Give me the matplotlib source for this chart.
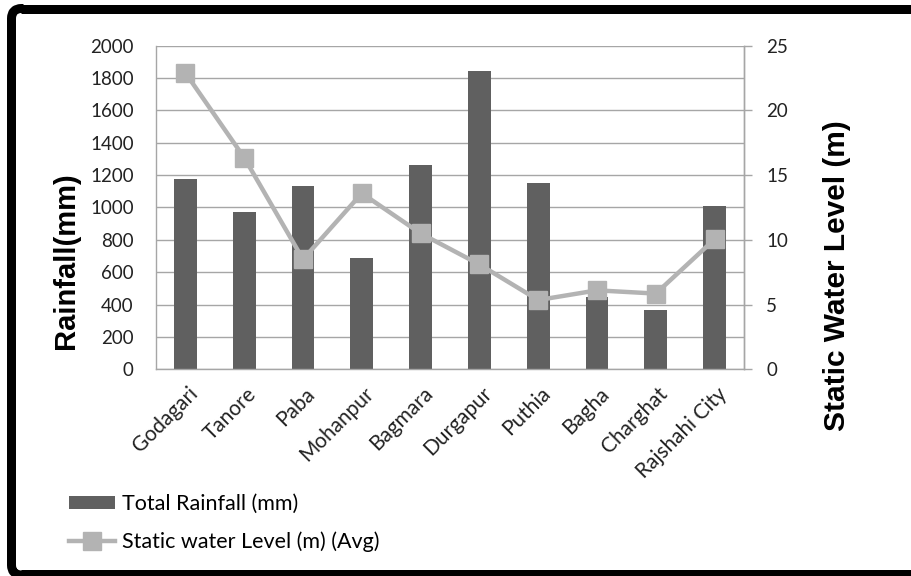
import matplotlib
matplotlib.use("Agg")
import matplotlib.pyplot as plt
import matplotlib.transforms as mtransforms
from matplotlib.patches import Patch, PathPatch
from matplotlib.path import Path
from matplotlib.lines import Line2D

# Rainfall and groundwater data per upazila
stations = ["Godagari", "Tanore", "Paba", "Mohanpur", "Bagmara",
            "Durgapur", "Puthia", "Bagha", "Charghat", "Rajshahi City"]
rainfall_mm = [1175, 975, 1130, 685, 1265, 1845, 1150, 445, 365, 1010]
water_level_m = [22.9, 16.35, 8.5, 13.6, 10.5, 8.1, 5.35, 6.1, 5.85, 10.05]
rain_ticks = [0, 200, 400, 600, 800, 1000, 1200, 1400, 1600, 1800, 2000]
level_ticks = [0, 5, 10, 15, 20, 25]

BAR_COLOR = "#606060"
LINE_COLOR = "#b3b3b3"
GRID_COLOR = "#a6a6a6"
TEXT_COLOR = "#222222"
TEXT_FONT = ["Lato", "DejaVu Sans"]
LABEL_FONT = ["Liberation Sans", "DejaVu Sans"]

fig = plt.figure(figsize=(9.12, 5.76), dpi=100)
W, H = 912, 576
AX_L, AX_R, AX_T, AX_B = 156, 744, 45.7, 369.3

ax = fig.add_axes([AX_L / W, 1 - AX_B / H, (AX_R - AX_L) / W, (AX_B - AX_T) / H])
x = list(range(len(stations)))

ax.bar(x, rainfall_mm, width=0.39, color=BAR_COLOR, zorder=2)
ax.set_xlim(-0.5, len(stations) - 0.5)
ax.set_ylim(0, 2000)
ax.set_yticks(rain_ticks)
ax.grid(axis="y", color=GRID_COLOR, linewidth=1.0, zorder=0)
ax.set_axisbelow(True)
ax.spines["top"].set_visible(False)
for side in ["left", "bottom", "right"]:
    ax.spines[side].set_color(GRID_COLOR)
    ax.spines[side].set_linewidth(1.0)
ax.tick_params(axis="y", length=0, pad=16, labelsize=13.5, labelcolor=TEXT_COLOR)
ax.tick_params(axis="x", length=0, pad=6)
ax.set_xticks(x)
ax.set_xticklabels(stations, rotation=45, ha="right", va="center",
                   rotation_mode="anchor", fontsize=15, color=TEXT_COLOR,
                   family=TEXT_FONT)
shift = mtransforms.ScaledTranslation(9 / 100, -13 / 100, fig.dpi_scale_trans)
for lbl in ax.get_xticklabels():
    lbl.set_transform(lbl.get_transform() + shift)
for lbl in ax.get_yticklabels():
    lbl.set_family(TEXT_FONT)
ax.set_ylabel("Rainfall(mm)", fontsize=21, fontweight="bold", family=LABEL_FONT)
ax.yaxis.set_label_coords((80 - AX_L) / (AX_R - AX_L), (AX_B - 261) / (AX_B - AX_T))

ax2 = ax.twinx()
ax2.plot(x, water_level_m, color=LINE_COLOR, linewidth=3.2, marker="s",
         markersize=13, markerfacecolor=LINE_COLOR, markeredgecolor=LINE_COLOR,
         zorder=3)
ax2.set_ylim(0, 25)
ax2.set_yticks(level_ticks)
for side in ["top", "left", "bottom"]:
    ax2.spines[side].set_visible(False)
ax2.spines["right"].set_color(GRID_COLOR)
ax2.spines["right"].set_linewidth(1.0)
ax2.tick_params(axis="y", length=6, width=1.0, color=GRID_COLOR, pad=10,
                labelsize=13.5, labelcolor=TEXT_COLOR)
for lbl in ax2.get_yticklabels():
    lbl.set_family(TEXT_FONT)
ax2.set_ylabel("Static Water Level (m)", fontsize=21.5, fontweight="bold",
               family=LABEL_FONT, rotation=90)
ax2.yaxis.set_label_coords((823 - AX_L) / (AX_R - AX_L), (AX_B - 276) / (AX_B - AX_T))

handles = [
    Patch(facecolor=BAR_COLOR, edgecolor="none"),
    Line2D([0], [0], color=LINE_COLOR, linewidth=3.2, marker="s",
           markersize=13, markerfacecolor=LINE_COLOR,
           markeredgecolor=LINE_COLOR),
]
fig.legend(handles, ["Total Rainfall (mm)", "Static water Level (m) (Avg)"],
           loc="upper left", bbox_to_anchor=(69 / W, 1 - 494 / H),
           frameon=False, prop={"family": TEXT_FONT, "size": 15.5},
           handlelength=2.15, handleheight=0.6, handletextpad=0.3,
           labelspacing=0.8, borderaxespad=0, borderpad=0)

# Black frame: rounded left side plus top and bottom rules reaching the right edge
FRAME_LW = 9 * 72 / 100
fl, ft, fb, r = 11.5, 8.5, 575.0, 10.0
pts = [(fl + r + 2, ft), (fl + r, ft), (fl, ft), (fl, ft + r), (fl, fb - r),
       (fl, fb), (fl + r, fb), (fl + r + 2, fb)]
codes = [Path.MOVETO, Path.LINETO, Path.CURVE3, Path.CURVE3, Path.LINETO,
         Path.CURVE3, Path.CURVE3, Path.LINETO]
frame_path = Path([(px / W, 1 - py / H) for px, py in pts], codes)
fig.patches.append(PathPatch(frame_path, transform=fig.transFigure, fill=False,
                             edgecolor="black", linewidth=FRAME_LW,
                             capstyle="butt", joinstyle="round"))
for py in (ft, fb - 1.0):
    fig.add_artist(Line2D([(fl + r) / W, 911.0 / W], [1 - py / H, 1 - py / H],
                          transform=fig.transFigure, color="black",
                          linewidth=FRAME_LW, solid_capstyle="butt"))

fig.savefig("out.png", dpi=100, facecolor="white")
